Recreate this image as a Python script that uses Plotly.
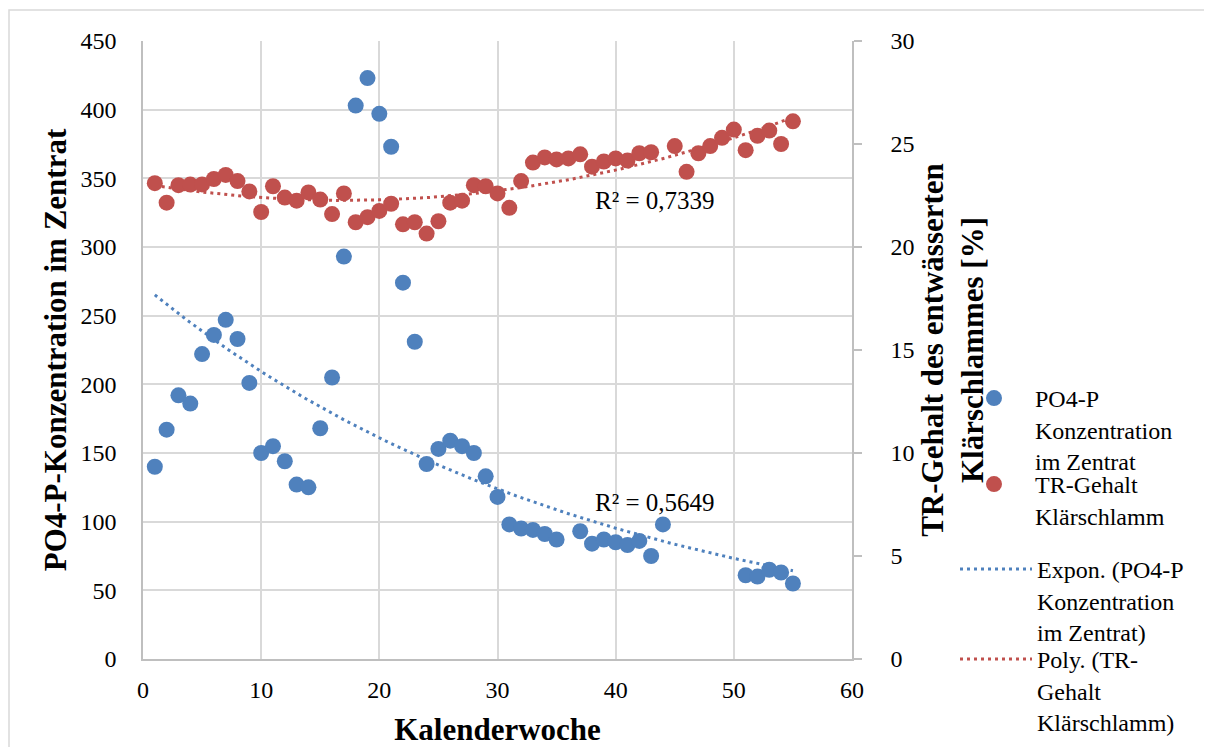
import numpy as np
import plotly.graph_objects as go

# ---- data ----
po4_weeks = list(range(1, 36)) + list(range(37, 45)) + list(range(51, 56))
po4_values = [140, 167, 192, 186, 222, 236, 247, 233, 201, 150,
              155, 144, 127, 125, 168, 205, 293, 403, 423, 397,
              373, 274, 231, 142, 153, 159, 155, 150, 133, 118,
              98, 95, 94, 91, 87,
              93, 84, 87, 85, 83, 86, 75, 98,
              61, 60, 65, 63, 55]

tr_weeks = list(range(1, 44)) + list(range(45, 56))
tr_values = [23.1, 22.15, 23.0, 23.03, 23.04, 23.3, 23.5, 23.2, 22.7, 21.7,
             22.95, 22.4, 22.25, 22.65, 22.3, 21.6, 22.6, 21.2, 21.45, 21.75,
             22.1, 21.1, 21.2, 20.65, 21.25, 22.15, 22.25, 23.0, 22.95, 22.6,
             21.9, 23.2, 24.1, 24.35, 24.25, 24.3, 24.5, 23.9, 24.15, 24.3,
             24.2, 24.55, 24.6,
             24.9, 23.65, 24.55, 24.9, 25.3, 25.7, 24.7, 25.4, 25.65, 25.0, 26.1]

x_ticks = [0, 10, 20, 30, 40, 50, 60]
r2_labels = ["R² = 0,7339", "R² = 0,5649"]

BLUE = "#4F81BD"
RED = "#C0504D"
FONT = "Liberation Serif, Times New Roman, DejaVu Serif, serif"

# ---- trendlines fitted from the data (as Excel does) ----
xb = np.array(po4_weeks, float)
yb = np.array(po4_values, float)
b, ln_a = np.polyfit(xb, np.log(yb), 1)
xt = np.linspace(xb.min(), xb.max(), 200)
exp_fit = np.exp(ln_a) * np.exp(b * xt)

xr = np.array(tr_weeks, float)
yr = np.array(tr_values, float)
coef = np.polyfit(xr, yr, 2)
xt2 = np.linspace(xr.min(), xr.max(), 200)
poly_fit = np.polyval(coef, xt2)

fig = go.Figure()
dot = "3px,4px"
fig.add_trace(go.Scatter(x=xt, y=exp_fit, mode="lines", name="Expon. (PO4-P<br>Konzentration<br>im Zentrat)",
                         line=dict(color=BLUE, width=3, dash=dot), legend="legend3", hoverinfo="skip"))
fig.add_trace(go.Scatter(x=po4_weeks, y=po4_values, mode="markers", name="PO4-P<br>Konzentration<br>im Zentrat",
                         marker=dict(color=BLUE, size=16, line=dict(width=0)), legend="legend", showlegend=True))
fig.add_trace(go.Scatter(x=xt2, y=poly_fit, mode="lines", name="Poly. (TR-<br>Gehalt<br>Klärschlamm)",
                         line=dict(color=RED, width=3, dash=dot), yaxis="y2", legend="legend4", hoverinfo="skip"))
fig.add_trace(go.Scatter(x=tr_weeks, y=tr_values, mode="markers", name="TR-Gehalt<br>Klärschlamm",
                         marker=dict(color=RED, size=16, line=dict(width=0)), yaxis="y2", legend="legend2"))

tick_font = dict(family=FONT, size=24, color="black")
title_font = dict(family=FONT, size=31, color="black", weight="bold")
GRID = "#d9d9d9"
AXIS = "#bfbfbf"

leg_font = dict(family=FONT, size=24, color="black")
leg_m = dict(xanchor="left", yanchor="top", font=leg_font, valign="top",
             bgcolor="rgba(0,0,0,0)", itemwidth=72, tracegroupgap=0)
leg_l = dict(xanchor="left", yanchor="top", font=leg_font, valign="top",
             bgcolor="rgba(0,0,0,0)", itemwidth=72, tracegroupgap=0)

# the page body adds an 8 px offset; positions below are in screen pixels
OFF = 8
W, H = 1212 - OFF, 747 - OFF
PL, PR, PT, PB = 143, 852, 41, 659          # plot area in screen pixels
L, R, T, B = PL - OFF, W - (PR - OFF), PT - OFF, H - (PB - OFF)
pw, ph = PR - PL, PB - PT

def px_x(px):
    return (px - PL) / pw

def px_y(py):
    return (PB - py) / ph

fig.update_layout(
    width=W, height=H,
    showlegend=True,
    margin=dict(l=L, r=R, t=T, b=B, autoexpand=False),
    paper_bgcolor="white", plot_bgcolor="white",
    font=dict(family=FONT, color="black"),
    xaxis=dict(range=[0, 60], tickvals=x_ticks, showgrid=True, gridcolor=GRID, gridwidth=1.5,
               showline=True, linecolor=AXIS, linewidth=1.5, zeroline=False, automargin=False,
               ticks="", ticklabelstandoff=8, tickfont=tick_font,
               title=dict(text="Kalenderwoche", font=title_font, standoff=18)),
    yaxis=dict(range=[0, 450], dtick=50, showgrid=True, gridcolor=GRID, gridwidth=1.5,
               showline=True, linecolor=AXIS, linewidth=1.5, zeroline=False, automargin=False,
               ticks="", ticklabelstandoff=20, tickfont=tick_font,
               title=dict(text="PO4-P-Konzentration im Zentrat", font=title_font, standoff=5)),
    yaxis2=dict(range=[0, 30], dtick=5, overlaying="y", side="right", showgrid=False,
                showline=True, linecolor=AXIS, linewidth=1.5, zeroline=False, automargin=False,
                ticks="outside", ticklen=8, tickcolor=AXIS, tickwidth=1.5, ticklabelstandoff=24,
                tickfont=tick_font,
                title=dict(text="TR-Gehalt des entwässerten<br>Klärschlammes [%]", font=title_font, standoff=0)),
    legend=dict(x=px_x(953), y=px_y(376), **leg_m),
    legend2=dict(x=px_x(953), y=px_y(462), **leg_m),
    legend3=dict(x=px_x(955), y=px_y(547), **leg_l),
    legend4=dict(x=px_x(955), y=px_y(637), **leg_l),
    shapes=[dict(type="rect", xref="paper", yref="paper", x0=px_x(9), x1=px_x(1209), y0=px_y(770), y1=px_y(10),
                 line=dict(color=GRID, width=1.5), fillcolor="rgba(0,0,0,0)", layer="below")],
    annotations=[
        dict(x=43.3, y=334.2, xref="x", yref="y", text=r2_labels[0], showarrow=False,
             font=dict(family=FONT, size=25, color="black")),
        dict(x=43.3, y=114.3, xref="x", yref="y", text=r2_labels[1], showarrow=False,
             font=dict(family=FONT, size=25, color="black")),
    ],
)

fig.write_html("out.html")
